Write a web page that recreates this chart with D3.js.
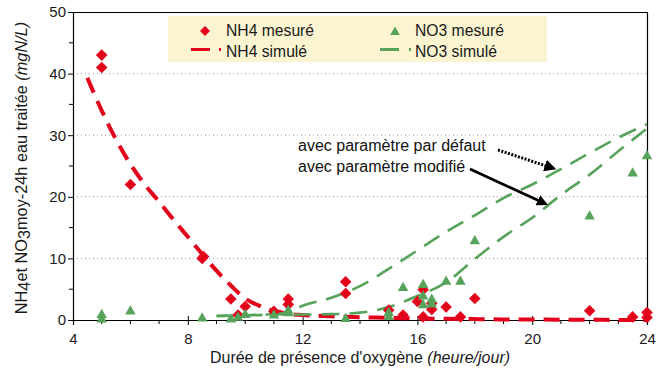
<!DOCTYPE html>
<html>
<head>
<meta charset="utf-8">
<script src="https://cdn.jsdelivr.net/npm/d3@7"></script>
<style>
  html, body { margin: 0; padding: 0; background: #ffffff; }
  svg { display: block; font-family: "Liberation Sans", Arial, sans-serif; }
</style>
</head>
<body>
<svg id="chart" width="660" height="369"></svg>
<script>
// ---------- DATA ----------
const xTicks = [4, 8, 12, 16, 20, 24];
const yTicks = [0, 10, 20, 30, 40, 50];
const gridValues = [10, 20, 30, 40];

const nh4MesX = [5, 5, 6, 8.5, 8.55, 9.5, 9.75, 10, 11, 11.5, 11.5, 13.5, 13.5, 15, 15.5, 16, 16.2, 16.2, 16.5, 16.5, 17, 17.5, 18, 22, 23.5, 24, 24];
const nh4MesY = [43, 41, 22, 10, 10.3, 3.4, 0.8, 2.2, 1.4, 3.4, 2.5, 6.2, 4.3, 1.6, 0.8, 3.0, 4.9, 0.5, 2.7, 1.7, 2.1, 0.5, 3.5, 1.5, 0.5, 1.2, 0.4];

const no3MesX = [5, 5, 6, 8.5, 9.5, 9.75, 10, 11, 11.5, 11.5, 13.5, 15, 15, 15.5, 16.2, 16.2, 16.2, 16.5, 16.5, 17, 17.5, 18, 22, 23.5, 24];
const no3MesY = [1.0, 0.3, 1.6, 0.45, 0.3, 0.55, 1.0, 0.95, 1.3, 1.7, 0.35, 1.35, 0.7, 5.4, 5.9, 4.0, 2.6, 3.5, 2.7, 6.4, 6.4, 13.0, 17.0, 24.0, 26.8];

const nh4SimX = [4.5, 5, 5.5, 6, 6.5, 7, 7.5, 8, 8.5, 9, 9.5, 10, 10.5, 11, 11.5, 12, 13, 14, 15, 16, 17, 18, 19, 20, 21, 22, 23, 24];
const nh4SimY = [39.3, 34, 29.3, 25.3, 22.0, 19.2, 16.3, 13.5, 10.7, 8.0, 5.6, 3.5, 2.3, 1.5, 1.0, 0.8, 0.6, 0.45, 0.35, 0.25, 0.2, 0.15, 0.1, 0.1, 0.05, 0.05, 0.0, 0.0];

const no3DefX = [9, 10, 11, 11.5, 12, 13, 14, 15, 16, 17, 18, 19, 20, 21, 22, 23, 24];
const no3DefY = [0.65, 0.75, 0.95, 1.3, 2.3, 3.6, 5.5, 8.3, 11.3, 14.3, 17.0, 19.8, 22.0, 24.5, 27.1, 29.6, 31.8];

const no3ModX = [9, 10, 11, 12, 13, 14, 15, 16, 17, 18, 19, 20, 21, 22, 23, 24];
const no3ModY = [0.65, 0.8, 0.9, 0.9, 0.95, 1.2, 2.1, 3.9, 6.1, 9.9, 13.5, 16.6, 20.3, 23.6, 27.4, 31.1];

const legendLabels = ["NH4 mesuré", "NH4 simulé", "NO3 mesuré", "NO3 simulé"];
const annotLabels = ["avec paramètre par défaut", "avec paramètre modifié"];
const xTitle = "Durée de présence d'oxygène ";
const xTitleItalic = "(heure/jour)";

// ---------- STYLE ----------
const RED = "#e3001b";
const GREEN = "#58a35c";
const LEGEND_BG = "#fbf4d0";

const svg = d3.select("#chart");
const L = 73, R = 647, T = 12, B = 320;

const x = d3.scaleLinear().domain([4, 24]).range([L, R]);
const y = d3.scaleLinear().domain([0, 50]).range([B, T]);

// grid lines
svg.append("g").selectAll("line").data(gridValues).join("line")
  .attr("x1", L).attr("x2", R)
  .attr("y1", d => y(d)).attr("y2", d => y(d))
  .attr("stroke", "#9a9a9a").attr("stroke-width", 1)
  .attr("stroke-dasharray", "1,3");

// frame top & right
svg.append("line").attr("x1", L).attr("x2", R).attr("y1", T + 0.5).attr("y2", T + 0.5)
  .attr("stroke", "#000").attr("stroke-width", 1.2);
svg.append("line").attr("x1", R + 0.5).attr("x2", R + 0.5).attr("y1", T).attr("y2", B)
  .attr("stroke", "#000").attr("stroke-width", 1.2);

// Y axis
const yAxis = d3.axisLeft(y).tickValues(yTicks).tickSize(5).tickPadding(2).tickFormat(d3.format("d"));
const gy = svg.append("g").attr("transform", `translate(${L},0)`).call(yAxis);
gy.select(".domain").attr("stroke", "#000").attr("stroke-width", 1.2);
gy.selectAll(".tick line").attr("stroke", "#000");
gy.selectAll(".tick text").attr("font-size", 15).attr("fill", "#1a1a1a")
  .attr("font-family", "Liberation Sans, Arial, sans-serif");
// minor y ticks
svg.append("g").selectAll("line").data(d3.range(5, 50, 10)).join("line")
  .attr("x1", L - 4).attr("x2", L)
  .attr("y1", d => y(d)).attr("y2", d => y(d))
  .attr("stroke", "#000");

// X axis
const xAxis = d3.axisBottom(x).tickValues(xTicks).tickSize(5).tickPadding(8).tickFormat(d3.format("d"));
const gx = svg.append("g").attr("transform", `translate(0,${B})`).call(xAxis);
gx.select(".domain").attr("stroke", "#000").attr("stroke-width", 1.2);
gx.selectAll(".tick line").attr("stroke", "#000").attr("y1", -4);
gx.selectAll(".tick text").attr("font-size", 15).attr("fill", "#1a1a1a")
  .attr("font-family", "Liberation Sans, Arial, sans-serif");
// minor x ticks
svg.append("g").selectAll("line").data(d3.range(5, 24, 1).filter(v => v % 4 !== 0)).join("line")
  .attr("x1", d => x(d)).attr("x2", d => x(d))
  .attr("y1", B).attr("y2", B + 4)
  .attr("stroke", "#000");

// ---------- LINES ----------
const line = d3.line().x(d => x(d[0])).y(d => y(d[1])).curve(d3.curveMonotoneX);

svg.append("path")
  .datum(d3.zip(nh4SimX, nh4SimY))
  .attr("d", line)
  .attr("fill", "none").attr("stroke", RED).attr("stroke-width", 4)
  .attr("stroke-dasharray", "16,9");

svg.append("path")
  .datum(d3.zip(no3DefX, no3DefY))
  .attr("d", line)
  .attr("fill", "none").attr("stroke", GREEN).attr("stroke-width", 2.6)
  .attr("stroke-dasharray", "18,10");

svg.append("path")
  .datum(d3.zip(no3ModX, no3ModY))
  .attr("d", line)
  .attr("fill", "none").attr("stroke", GREEN).attr("stroke-width", 2.6)
  .attr("stroke-dasharray", "18,10").attr("stroke-dashoffset", 7);

// ---------- MARKERS ----------
function diamond(cx, cy, r) {
  return `M${cx},${cy - r}L${cx + r},${cy}L${cx},${cy + r}L${cx - r},${cy}Z`;
}
function triangle(cx, cy, r) {
  return `M${cx},${cy - r}L${cx + r * 1.05},${cy + r * 0.85}L${cx - r * 1.05},${cy + r * 0.85}Z`;
}

svg.append("g").selectAll("path").data(d3.zip(nh4MesX, nh4MesY)).join("path")
  .attr("d", d => diamond(x(d[0]), y(d[1]), 5.8))
  .attr("fill", RED);

svg.append("g").selectAll("path").data(d3.zip(no3MesX, no3MesY)).join("path")
  .attr("d", d => triangle(x(d[0]), y(d[1]), 5))
  .attr("fill", GREEN);

// ---------- LEGEND ----------
const lg = svg.append("g");
lg.append("rect").attr("x", 168).attr("y", 16).attr("width", 379).attr("height", 46)
  .attr("fill", LEGEND_BG);
lg.append("path").attr("d", diamond(205, 31, 5)).attr("fill", RED);
lg.append("path").attr("d", triangle(395, 31, 4.6)).attr("fill", GREEN);
lg.append("line").attr("x1", 191).attr("x2", 221).attr("y1", 49.5).attr("y2", 49.5)
  .attr("stroke", RED).attr("stroke-width", 3.2).attr("stroke-dasharray", "19,9");
lg.append("line").attr("x1", 380).attr("x2", 411).attr("y1", 49.5).attr("y2", 49.5)
  .attr("stroke", GREEN).attr("stroke-width", 3).attr("stroke-dasharray", "19,10");
const legPos = [[226, 36], [226, 57], [415, 36], [415, 57]];
lg.selectAll("text").data(legendLabels).join("text")
  .attr("x", (d, i) => legPos[i][0]).attr("y", (d, i) => legPos[i][1])
  .attr("font-size", 15.7).attr("fill", "#1a1a1a")
  .text(d => d);

// ---------- ANNOTATIONS ----------
const defs = svg.append("defs");
defs.append("marker").attr("id", "arrow").attr("viewBox", "0 0 10 10")
  .attr("refX", 8).attr("refY", 5).attr("markerWidth", 4).attr("markerHeight", 4)
  .attr("markerUnits", "strokeWidth").attr("orient", "auto")
  .append("path").attr("d", "M0,0L10,5L0,10Z").attr("fill", "#000");

svg.append("text").attr("x", 298).attr("y", 151).attr("font-size", 16).attr("fill", "#111")
  .text(annotLabels[0]);
svg.append("text").attr("x", 298).attr("y", 172).attr("font-size", 16).attr("fill", "#111")
  .text(annotLabels[1]);

svg.append("line").attr("x1", 498).attr("y1", 150).attr("x2", 554).attr("y2", 168.5)
  .attr("stroke", "#000").attr("stroke-width", 3).attr("stroke-dasharray", "2,1.5")
  .attr("marker-end", "url(#arrow)");
svg.append("line").attr("x1", 470).attr("y1", 169).attr("x2", 546).attr("y2", 204)
  .attr("stroke", "#000").attr("stroke-width", 2.8)
  .attr("marker-end", "url(#arrow)");

// ---------- AXIS TITLES ----------
const xt = svg.append("text").attr("x", x(14)).attr("y", 363).attr("text-anchor", "middle")
  .attr("font-size", 16).attr("fill", "#1a1a1a");
xt.append("tspan").text(xTitle);
xt.append("tspan").attr("font-style", "italic").text(xTitleItalic);

const yt = svg.append("text").attr("transform", "translate(27,168) rotate(-90)")
  .attr("text-anchor", "middle").attr("font-size", 16.3).attr("fill", "#1a1a1a");
yt.append("tspan").text("NH");
yt.append("tspan").attr("dy", 3).text("4");
yt.append("tspan").attr("dy", -3).text("et NO");
yt.append("tspan").attr("dy", 3).text("3");
yt.append("tspan").attr("dy", -3).text("moy-24h eau traitée ");
yt.append("tspan").attr("font-style", "italic").text("(mgN/L)");
</script>
</body>
</html>
